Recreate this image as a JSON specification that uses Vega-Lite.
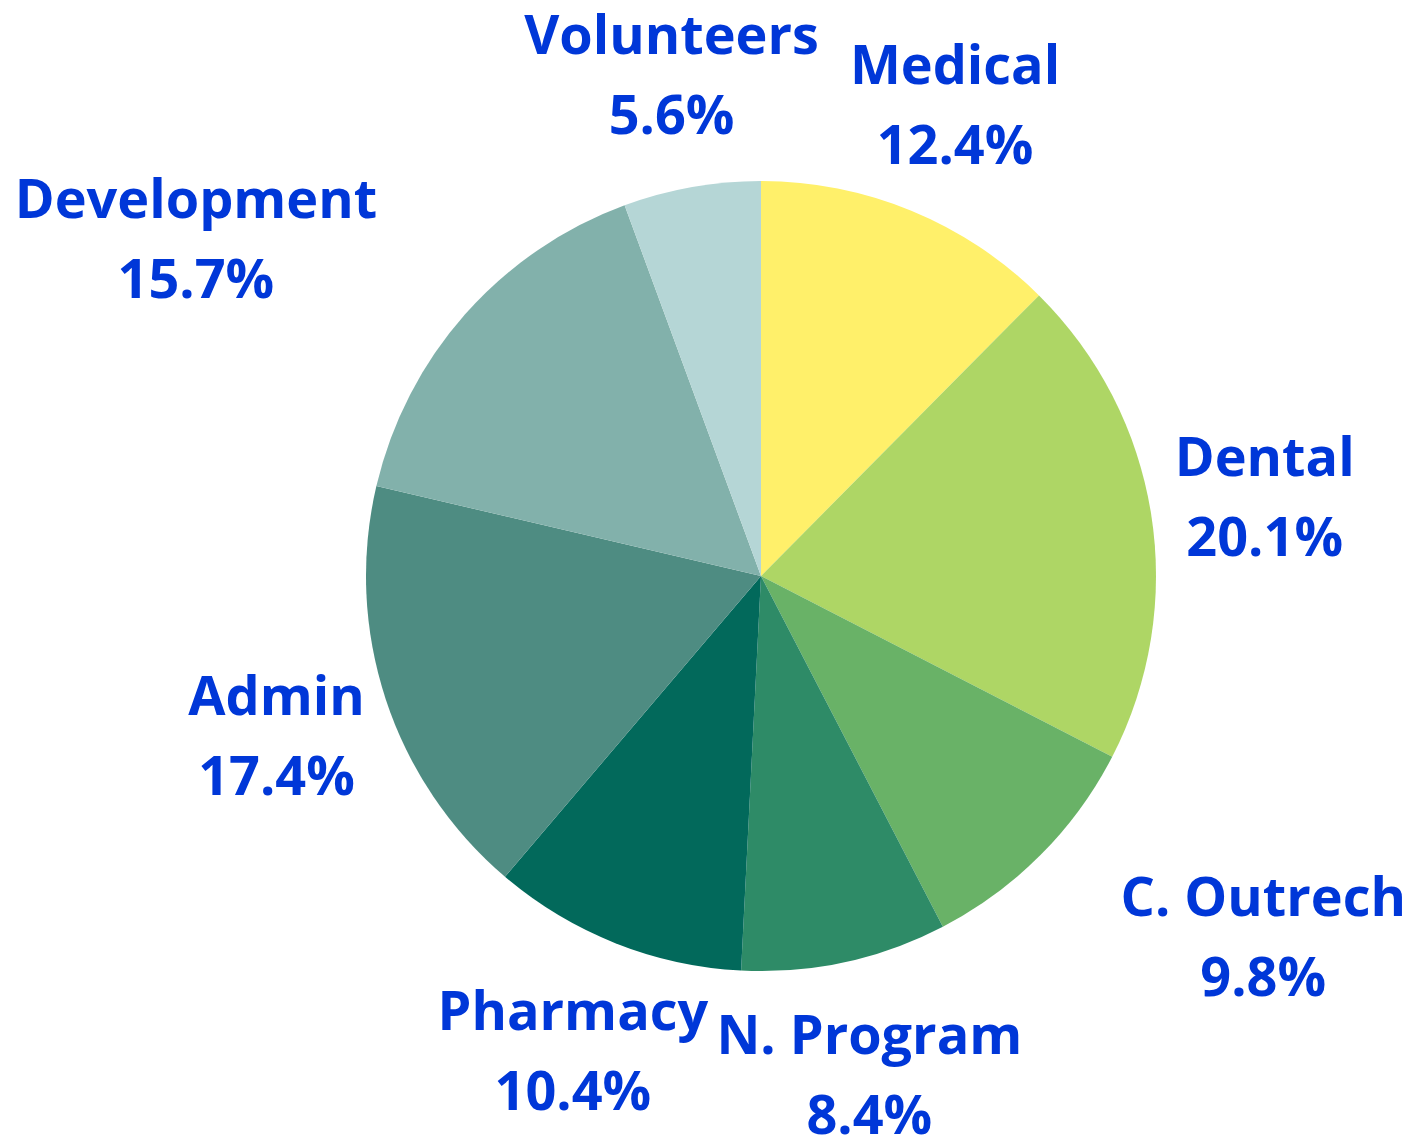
{
  "$schema": "https://vega.github.io/schema/vega-lite/v6.json",
  "autosize": "none",
  "width": 1300,
  "height": 1128,
  "padding": {"left": 111, "top": 12, "right": 0, "bottom": 0},
  "background": "white",
  "config": {"view": {"stroke": null}},
  "data": {
    "values": [
      {"i": 1, "cat": "Medical", "pct": 12.4, "label": "Medical\n12.4%"},
      {"i": 2, "cat": "Dental", "pct": 20.1, "label": "Dental\n20.1%"},
      {"i": 3, "cat": "C. Outrech", "pct": 9.8, "label": "C. Outrech\n9.8%"},
      {"i": 4, "cat": "N. Program", "pct": 8.4, "label": "N. Program\n8.4%"},
      {"i": 5, "cat": "Pharmacy", "pct": 10.4, "label": "Pharmacy\n10.4%"},
      {"i": 6, "cat": "Admin", "pct": 17.4, "label": "Admin\n17.4%"},
      {"i": 7, "cat": "Development", "pct": 15.7, "label": "Development\n15.7%"},
      {"i": 8, "cat": "Volunteers", "pct": 5.6, "label": "Volunteers\n5.6%"}
    ]
  },
  "encoding": {
    "theta": {"field": "pct", "type": "quantitative", "stack": true},
    "order": {"field": "i", "type": "quantitative"}
  },
  "layer": [
    {
      "mark": {"type": "arc", "outerRadius": 395},
      "encoding": {
        "color": {
          "field": "cat",
          "type": "nominal",
          "legend": null,
          "scale": {
            "domain": ["Medical", "Dental", "C. Outrech", "N. Program", "Pharmacy", "Admin", "Development", "Volunteers"],
            "range": ["#FFF06A", "#AED665", "#69B267", "#2E8B67", "#02695B", "#4E8C82", "#82B1AB", "#B5D6D6"]
          }
        }
      }
    },
    {
      "mark": {"type": "text", "radius": 510, "dy": -36, "font": "Open Sans", "fontWeight": "bold", "fontSize": 54, "lineHeight": 80, "lineBreak": "\n", "color": "#0037D8", "align": "center", "baseline": "middle"},
      "encoding": {
        "text": {"condition": {"test": "datum.cat !== 'C. Outrech' && datum.cat !== 'Development'", "field": "label"}, "value": ""}
      }
    },
    {
      "mark": {"type": "text", "radius": 510, "dx": 141, "dy": -36, "font": "Open Sans", "fontWeight": "bold", "fontSize": 54, "lineHeight": 80, "lineBreak": "\n", "color": "#0037D8", "align": "center", "baseline": "middle"},
      "encoding": {
        "text": {"condition": {"test": "datum.cat === 'C. Outrech'", "field": "label"}, "value": ""}
      }
    },
    {
      "mark": {"type": "text", "radius": 510, "dx": -183, "dy": -36, "font": "Open Sans", "fontWeight": "bold", "fontSize": 54, "lineHeight": 80, "lineBreak": "\n", "color": "#0037D8", "align": "center", "baseline": "middle"},
      "encoding": {
        "text": {"condition": {"test": "datum.cat === 'Development'", "field": "label"}, "value": ""}
      }
    }
  ]
}
